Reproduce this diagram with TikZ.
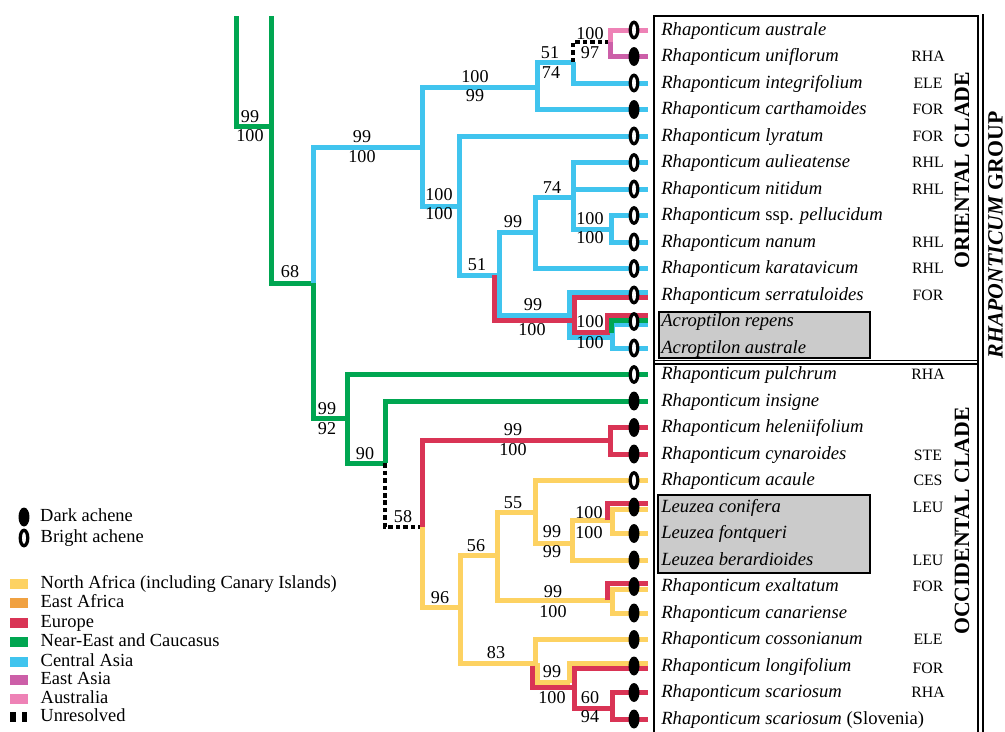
\documentclass[tikz,border=0pt]{standalone}
\usepackage{fontspec}
\setmainfont{Liberation Serif}
\usetikzlibrary{positioning,shapes.geometric}
\definecolor{cNAfrica}{HTML}{FDD262}
\definecolor{cEAfrica}{HTML}{F0A141}
\definecolor{cEurope}{HTML}{D93455}
\definecolor{cNearEast}{HTML}{00A651}
\definecolor{cCAsia}{HTML}{40C4EE}
\definecolor{cEAsia}{HTML}{CC5FA8}
\definecolor{cAustralia}{HTML}{EE82B6}
\definecolor{cBox}{HTML}{CBCBCB}
\newcommand{\taxon}[3]{\node[#2] (a#1) at ([shift={(-14,0)}]e#1) {}; \node[taxname] (t#1) at ([shift={(13,5)}]e#1) {#3};}

\begin{document}
\begin{tikzpicture}[x=0.02cm, y=-0.02cm, every node/.style={inner sep=0pt},
 branch/.style={line width=0.1cm},
 nafrica/.style={branch, draw=cNAfrica}, europe/.style={branch, draw=cEurope},
 neareast/.style={branch, draw=cNearEast}, casia/.style={branch, draw=cCAsia},
 easia/.style={branch, draw=cEAsia}, australia/.style={branch, draw=cAustralia},
 unresolved/.style={line width=0.09cm, dash pattern=on 0.09cm off 0.06cm},
 dark/.style={ellipse, fill=black, minimum width=0.22cm, minimum height=0.38cm},
 bright/.style={ellipse, draw=black, fill=white, line width=0.065cm, minimum width=0.15cm, minimum height=0.31cm},
 taxname/.style={anchor=base west, font=\fontsize{10.6}{12}\selectfont\itshape},
 code/.style={anchor=base, font=\fontsize{9}{11}\selectfont},
 bsv/.style={font=\fontsize{10.3}{12}\selectfont},
 clade/.style={rotate=90, font=\fontsize{12.4}{14}\selectfont\bfseries},
 legtext/.style={font=\fontsize{10.5}{12}\selectfont, text height=0.68em, text depth=0.2em},
 swatch/.style={minimum width=0.36cm, minimum height=0.2cm},
 frame/.style={line width=0.03cm}, graybox/.style={draw, fill=cBox, line width=0.04cm}]

\useasboundingbox (0,0) rectangle (1005,731);

% tips and inner nodes
\foreach \i in {1,...,27} \coordinate (e\i) at (648,{30+(\i-1)*26.5});
\coordinate (topA) at (236,16);
\coordinate (topB) at (271,16);
\coordinate (N1) at (271,126);
\coordinate (N2) at (313,283);
\coordinate (N3) at (422,147);
\coordinate (N4) at (537,87);
\coordinate (N5) at (459,206);
\coordinate (N6) at (573,62);
\coordinate (N7) at (610,42);
\coordinate (N8) at (499,275);
\coordinate (N9) at (535,232);
\coordinate (N10) at (572,318);
\coordinate (N11) at (573,197);
\coordinate (N12) at (611,229);
\coordinate (N13) at (610,335);
\coordinate (N14) at (347,418);
\coordinate (N15) at (385,463);
\coordinate (N16) at (422,527);
\coordinate (N17) at (610,440);
\coordinate (N18) at (460,607);
\coordinate (N19) at (497,555);
\coordinate (N20) at (535,663);
\coordinate (N21) at (535,512);
\coordinate (N22) at (612,600);
\coordinate (N23) at (572,543);
\coordinate (N24) at (612,520);
\coordinate (N25) at (572,685);
\coordinate (N26) at (612,708);

% frame and boxes
\draw[frame] (654,740) -- (654,16) -- (978,16) -- (978,740);
\draw[frame] (983,14) -- (983,740);
\draw[frame] (654,360.5) -- (978,360.5);
\draw[frame] (654,364) -- (978,364);
\draw[graybox] (659,312) rectangle (870,358);
\draw[graybox] (658,495) rectangle (870,573);

% backbone
\draw[neareast] (topA) |- (N1);
\draw[neareast] (topB) |- (N2);
\draw[neareast] (N2) |- (N14);
\draw[neareast] (N14) |- (e14);
\draw[neareast] (N14) |- (N15);
\draw[neareast] (N15) |- (e15);
\draw[unresolved] (N15) |- (N16);

% oriental clade
\draw[casia] (N2) |- (N3);
\draw[casia] (N3) |- (N4);
\draw[casia] (N3) |- (N5);
\draw[casia] (N4) |- (N6);
\draw[casia] (N4) |- (e4);
\draw[casia] (N6) |- (e3);
\draw[casia] (N5) |- (e5);
\draw[casia] (N5) |- (N8);
\draw[casia] (N8) |- (N9);
\draw[casia] (N9) |- (N11);
\draw[casia] (N9) |- (e10);
\draw[casia] (N11) |- (e6);
\draw[casia] (N11) |- (e7);
\draw[casia] (N11) |- (N12);
\draw[casia] (N12) |- (e8);
\draw[casia] (N12) |- (e9);
\draw[casia] (N8) |- ([shift={(-2.5,-2.5)}]N10);
\draw[casia] ([shift={(0,-2.5)}]e11) -| ([shift={(-2.5,0)}]N10) |- ([shift={(2.5,2.5)}]N13) |- ([shift={(0,3)}]e12);
\draw[casia] ([shift={(2.5,2.5)}]N13) |- (e13);
\draw[unresolved] (N6) |- (N7);
\draw[australia] (N7) |- (e1);
\draw[easia] (N7) |- (e2);
\draw[europe] ([shift={(-5,0)}]N8) |- ([shift={(2.5,2.5)}]N10);
\draw[europe] ([shift={(0,2.5)}]e11) -| ([shift={(2.5,0)}]N10) |- ([shift={(-2.5,-2.5)}]N13) |- ([shift={(0,-6)}]e12);
\draw[neareast] ([shift={(1,-2.5)}]N13) |- ([shift={(0,-1)}]e12);

% occidental clade
\draw[europe] (N16) |- (N17);
\draw[europe] (N17) |- (e16);
\draw[europe] (N17) |- (e17);
\draw[nafrica] (N16) |- (N18);
\draw[nafrica] (N18) |- (N19);
\draw[nafrica] (N18) |- (N20);
\draw[nafrica] (N19) |- (N21);
\draw[nafrica] (N19) |- (N22);
\draw[nafrica] (N21) |- (e18);
\draw[nafrica] (N21) |- (N23);
\draw[nafrica] (N23) |- (N24);
\draw[nafrica] (N23) |- (e21);
\draw[nafrica] (N24) |- ([shift={(0,2.5)}]e19);
\draw[nafrica] (N24) |- (e20);
\draw[nafrica] (N22) |- ([shift={(0,3)}]e22);
\draw[nafrica] (N22) |- (e23);
\draw[nafrica] (N20) |- (e24);
\draw[nafrica] ([shift={(2.5,0)}]N20) |- ([shift={(-2.5,-2.5)}]N25);
\draw[nafrica] ([shift={(-2.5,-2.5)}]N25) |- ([shift={(0,-3)}]e25);
\draw[europe] ([shift={(-5,0)}]N24) |- ([shift={(0,-3.5)}]e19);
\draw[europe] ([shift={(-5,0)}]N22) |- ([shift={(0,-3)}]e22);
\draw[europe] ([shift={(-2.5,2.5)}]N20) |- ([shift={(2.5,2.5)}]N25);
\draw[europe] ([shift={(2.5,2.5)}]N25) |- ([shift={(0,2.5)}]e25);
\draw[europe] ([shift={(2.5,2.5)}]N25) |- (N26);
\draw[europe] (N26) |- (e26);
\draw[europe] (N26) |- (e27);

% taxa
\taxon{1}{bright}{Rhaponticum australe}
\taxon{2}{dark}{Rhaponticum uniflorum}
\taxon{3}{bright}{Rhaponticum integrifolium}
\taxon{4}{dark}{Rhaponticum carthamoides}
\taxon{5}{bright}{Rhaponticum lyratum}
\taxon{6}{bright}{Rhaponticum aulieatense}
\taxon{7}{bright}{Rhaponticum nitidum}
\taxon{8}{bright}{Rhaponticum \textup{ssp.} pellucidum}
\taxon{9}{bright}{Rhaponticum nanum}
\taxon{10}{bright}{Rhaponticum karatavicum}
\taxon{11}{bright}{Rhaponticum serratuloides}
\taxon{12}{bright}{Acroptilon repens}
\taxon{13}{bright}{Acroptilon australe}
\taxon{14}{bright}{Rhaponticum pulchrum}
\taxon{15}{dark}{Rhaponticum insigne}
\taxon{16}{dark}{Rhaponticum heleniifolium}
\taxon{17}{dark}{Rhaponticum cynaroides}
\taxon{18}{bright}{Rhaponticum acaule}
\taxon{19}{dark}{Leuzea conifera}
\taxon{20}{dark}{Leuzea fontqueri}
\taxon{21}{dark}{Leuzea berardioides}
\taxon{22}{dark}{Rhaponticum exaltatum}
\taxon{23}{dark}{Rhaponticum canariense}
\taxon{24}{dark}{Rhaponticum cossonianum}
\taxon{25}{dark}{Rhaponticum longifolium}
\taxon{26}{dark}{Rhaponticum scariosum}
\taxon{27}{dark}{Rhaponticum scariosum \textup{(Slovenia)}}

\node[code] (c2) at ([shift={(280,5)}]e2) {RHA};
\node[code] (c3) at ([shift={(280,5)}]e3) {ELE};
\node[code] (c4) at ([shift={(280,5)}]e4) {FOR};
\node[code] (c5) at ([shift={(280,5)}]e5) {FOR};
\node[code] (c6) at ([shift={(280,5)}]e6) {RHL};
\node[code] (c7) at ([shift={(280,5)}]e7) {RHL};
\node[code] (c9) at ([shift={(280,5)}]e9) {RHL};
\node[code] (c10) at ([shift={(280,5)}]e10) {RHL};
\node[code] (c11) at ([shift={(280,5)}]e11) {FOR};
\node[code] (c14) at ([shift={(280,5)}]e14) {RHA};
\node[code] (c17) at ([shift={(280,6)}]e17) {STE};
\node[code] (c18) at ([shift={(280,5)}]e18) {CES};
\node[code] (c19) at ([shift={(280,5)}]e19) {LEU};
\node[code] (c21) at ([shift={(280,5)}]e21) {LEU};
\node[code] (c22) at ([shift={(280,5)}]e22) {FOR};
\node[code] (c24) at ([shift={(280,5)}]e24) {ELE};
\node[code] (c25) at ([shift={(280,7)}]e25) {FOR};
\node[code] (c26) at ([shift={(280,5)}]e26) {RHA};

\node[clade] (orient) at (962,170) {ORIENTAL CLADE};
\node[clade] (occid) at (962,521) {OCCIDENTAL CLADE};
\node[clade] (group) at (995.5,235) {\textit{RHAPONTICUM} GROUP};

% support values
\node[bsv] (s1) at (250,117) {99};
\node[bsv] (s2) at (250,136) {100};
\node[bsv] (s3) at (362,137) {99};
\node[bsv] (s4) at (362,157) {100};
\node[bsv] (s5) at (475,77) {100};
\node[bsv] (s6) at (475,96) {99};
\node[bsv] (s7) at (439,195) {100};
\node[bsv] (s8) at (439,214) {100};
\node[bsv] (s9) at (550,53) {51};
\node[bsv] (s10) at (551,73) {74};
\node[bsv] (s11) at (590,34) {100};
\node[bsv] (s12) at (590,53) {97};
\node[bsv] (s13) at (552,188) {74};
\node[bsv] (s14) at (513,222) {99};
\node[bsv] (s15) at (590,219) {100};
\node[bsv] (s16) at (590,238) {100};
\node[bsv] (s17) at (477,265) {51};
\node[bsv] (s18) at (533,305) {99};
\node[bsv] (s19) at (532,330) {100};
\node[bsv] (s20) at (590,322) {100};
\node[bsv] (s21) at (590,343) {100};
\node[bsv] (s22) at (290,272) {68};
\node[bsv] (s23) at (327,409) {99};
\node[bsv] (s24) at (327,429) {92};
\node[bsv] (s25) at (365,454) {90};
\node[bsv] (s26) at (513,430) {99};
\node[bsv] (s27) at (513,450) {100};
\node[bsv] (s28) at (403,517) {58};
\node[bsv] (s29) at (513,503) {55};
\node[bsv] (s30) at (589,513) {100};
\node[bsv] (s31) at (589,533) {100};
\node[bsv] (s32) at (552,532) {99};
\node[bsv] (s33) at (552,552) {99};
\node[bsv] (s34) at (476,546) {56};
\node[bsv] (s35) at (553,592) {99};
\node[bsv] (s36) at (553,612) {100};
\node[bsv] (s37) at (440,598) {96};
\node[bsv] (s38) at (496,653) {83};
\node[bsv] (s39) at (552,672) {99};
\node[bsv] (s40) at (552,698) {100};
\node[bsv] (s41) at (590,698) {60};
\node[bsv] (s42) at (590,717) {94};

% legend
\node[dark] (kdark) at (24,517) {};
\node[legtext, right=0.2cm of kdark] (kdarkt) {Dark achene};
\node[bright] (kbright) at (24,538) {};
\node[legtext, right=0.22cm of kbright] (kbrightt) {Bright achene};
\node[swatch, fill=cNAfrica] (k1) at (19,584) {};
\node[legtext, right=0.24cm of k1] (k1t) {North Africa (including Canary Islands)};
\node[swatch, fill=cEAfrica] (k2) at (19,603) {};
\node[legtext, right=0.24cm of k2] (k2t) {East Africa};
\node[swatch, fill=cEurope] (k3) at (19,623) {};
\node[legtext, right=0.24cm of k3] (k3t) {Europe};
\node[swatch, fill=cNearEast] (k4) at (19,642) {};
\node[legtext, right=0.24cm of k4] (k4t) {Near-East and Caucasus};
\node[swatch, fill=cCAsia] (k5) at (19,662) {};
\node[legtext, right=0.24cm of k5] (k5t) {Central Asia};
\node[swatch, fill=cEAsia] (k6) at (19,680) {};
\node[legtext, right=0.24cm of k6] (k6t) {East Asia};
\node[swatch, fill=cAustralia] (k7) at (19,699) {};
\node[legtext, right=0.24cm of k7] (k7t) {Australia};
\node[swatch, minimum width=0.112cm, fill=black] (k8a) at (12.8,717) {};
\node[swatch, minimum width=0.112cm, fill=black] (k8b) at (24.5,717) {};
\node[legtext, right=0.25cm of k8b] (k8t) {Unresolved};
\end{tikzpicture}
\end{document}
